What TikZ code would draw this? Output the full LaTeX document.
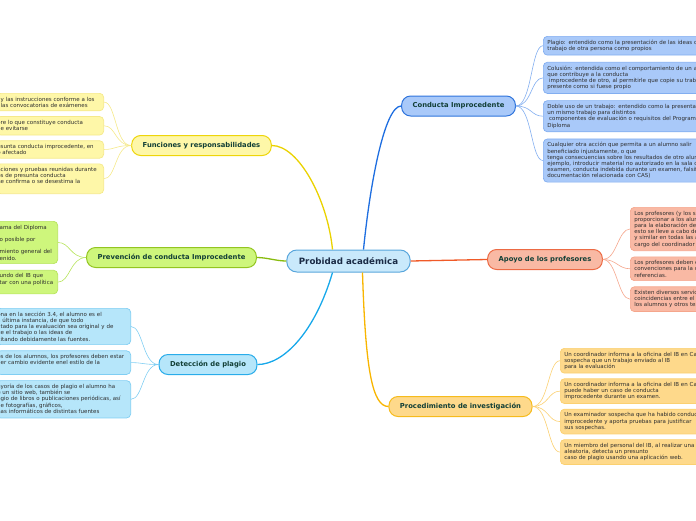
\documentclass[tikz,border=0pt]{standalone}
\usepackage{fontspec}
\setmainfont{DejaVu Sans}
\usepackage{tikz}
\usetikzlibrary{positioning}
\usepackage{xcolor}

\definecolor{rootfill}{HTML}{C9E9FB}
\definecolor{rootdraw}{HTML}{58A6DC}
\definecolor{roottext}{HTML}{1A2B45}
\definecolor{titletext}{HTML}{123F36}
\definecolor{leaftext}{HTML}{2E2E2E}
\definecolor{condfill}{HTML}{A9C9F9}
\definecolor{conddraw}{HTML}{2F74DC}
\definecolor{condline}{HTML}{1E6EE0}
\definecolor{condedge}{HTML}{82AEF0}
\definecolor{apoyofill}{HTML}{F9B9A4}
\definecolor{apoyodraw}{HTML}{EC6A44}
\definecolor{apoyoline}{HTML}{F05A28}
\definecolor{apoyoedge}{HTML}{F5A68C}
\definecolor{procfill}{HTML}{FED98B}
\definecolor{procdraw}{HTML}{F6BB1C}
\definecolor{procline}{HTML}{F8B500}
\definecolor{procedge}{HTML}{FBD070}
\definecolor{funfill}{HTML}{FEF7A8}
\definecolor{fundraw}{HTML}{EED50A}
\definecolor{funline}{HTML}{EAD200}
\definecolor{funedge}{HTML}{F5E98A}
\definecolor{prevfill}{HTML}{CEF67C}
\definecolor{prevdraw}{HTML}{93C520}
\definecolor{prevline}{HTML}{88BB0E}
\definecolor{prevedge}{HTML}{B7E45C}
\definecolor{detfill}{HTML}{B6E6FA}
\definecolor{detdraw}{HTML}{29ACEA}
\definecolor{detline}{HTML}{17A8EA}
\definecolor{detedge}{HTML}{80CEF3}

\newcommand{\offpage}[1]{\leavevmode\llap{#1}}

\begin{document}
\begin{tikzpicture}[
  x=1pt, y=-1pt,
  root/.style={draw=rootdraw, fill=rootfill, rounded corners=10pt, line width=1pt, minimum height=22pt, inner xsep=12pt, text=roottext, font=\bfseries\fontsize{8.7}{10}\selectfont},
  branch/.style={rounded corners=9pt, line width=1pt, minimum height=20pt, inner xsep=11pt, text=titletext, font=\bfseries\fontsize{6.8}{8}\selectfont},
  leaf/.style={rounded corners=4pt, line width=0.7pt, align=left, inner xsep=4pt, inner ysep=3.5pt, text=leaftext, font=\fontsize{5.5}{6.2}\selectfont},
  condleaf/.style={leaf, fill=condfill, draw=condedge, text width=260pt},
  apoyoleaf/.style={leaf, fill=apoyofill, draw=apoyoedge, text width=200pt},
  procleaf/.style={leaf, fill=procfill, draw=procedge, text width=260pt},
  funleaf/.style={leaf, fill=funfill, draw=funedge, text width=99pt},
  prevleaf/.style={leaf, fill=prevfill, draw=prevedge, text width=54pt},
  detleaf/.style={leaf, fill=detfill, draw=detedge, text width=126pt},
  link/.style={line width=1.3pt},
  twig/.style={line width=0.6pt}
]
\clip (0,0) rectangle (696,520);

% Central topic
\node[root] (probidad) at (348.5,261) {Probidad académica};

% Main branches
\node[branch, fill=condfill, draw=conddraw] (conducta) at (458.5,106) {Conducta Improcedente};
\node[branch, fill=apoyofill, draw=apoyodraw] (apoyo) at (545,259.5) {Apoyo de los profesores};
\node[branch, fill=procfill, draw=procdraw] (proc) at (460.5,406.5) {Procedimiento de investigación};
\node[branch, fill=funfill, draw=fundraw] (funciones) at (201.5,145.5) {Funciones y responsabilidades};
\node[branch, fill=prevfill, draw=prevdraw] (prevencion) at (171.5,257.5) {Prevención de conducta Improcedente};
\node[branch, fill=detfill, draw=detdraw] (deteccion) at (208,364.5) {Detección de plagio};

% Leaves of Conducta Improcedente
\node[condleaf, anchor=north west] (conducta1) at (543,36) {Plagio: entendido como la presentación de las ideas o el\\trabajo de otra persona como propios};
\node[condleaf, below=6.5pt of conducta1] (conducta2) {Colusión: entendida como el comportamiento de un alumno\\que contribuye a la conducta\\~improcedente de otro, al permitirle que copie su trabajo o lo\\presente como si fuese propio};
\node[condleaf, below=6.5pt of conducta2] (conducta3) {Doble uso de un trabajo: entendido como la presentación de\\un mismo trabajo para distintos\\~componentes de evaluación o requisitos del Programa del\\Diploma};
\node[condleaf, below=6.5pt of conducta3] (conducta4) {Cualquier otra acción que permita a un alumno salir\\beneficiado injustamente, o que\\tenga consecuencias sobre los resultados de otro alumno (por\\ejemplo, introducir material no autorizado en la sala de\\examen, conducta indebida durante un examen, falsificar\\documentación relacionada con CAS)};

% Leaves of Apoyo de los profesores
\node[apoyoleaf, anchor=north west] (apoyo1) at (630,207) {Los profesores (y los supervisores) deben\\proporcionar a los alumnos orientación\\para la elaboración de sus trabajos\\esto se lleve a cabo de manera coherente\\y similar en todas las asignaturas, a\\cargo del coordinador del Programa};
\node[apoyoleaf, below=5.5pt of apoyo1] (apoyo2) {Los profesores deben enseñar a los alumnos las\\convenciones para la cita de fuentes y las\\referencias.};
\node[apoyoleaf, below=5.5pt of apoyo2] (apoyo3) {Existen diversos servicios que detectan\\coincidencias entre el trabajo de\\los alumnos y otros textos};

% Leaves of Procedimiento de investigación
\node[procleaf, anchor=north west] (proc1) at (560,348) {Un coordinador informa a la oficina del IB en Cardiff de que\\sospecha que un trabajo enviado al IB\\para la evaluación};
\node[procleaf, below=5pt of proc1] (proc2) {Un coordinador informa a la oficina del IB en Cardiff de que\\puede haber un caso de conducta\\improcedente durante un examen.};
\node[procleaf, below=5pt of proc2] (proc3) {Un examinador sospecha que ha habido conducta\\improcedente y aporta pruebas para justificar\\sus sospechas.};
\node[procleaf, below=5pt of proc3] (proc4) {Un miembro del personal del IB, al realizar una comprobación\\aleatoria, detecta un presunto\\caso de plagio usando una aplicación web.};

% Leaves of Funciones y responsabilidades
\node[funleaf, anchor=north east] (funciones1) at (104,93) {y las instrucciones conforme a los\\las convocatorias de exámenes};
\node[funleaf, below=5pt of funciones1] (funciones2) {\offpage{sob}re lo que constituye conducta\\\offpage{pued}e evitarse};
\node[funleaf, below=5pt of funciones2] (funciones3) {\offpage{pre}sunta conducta improcedente, en\\\offpage{alumno}\ afectado};
\node[funleaf, below=5pt of funciones3] (funciones4) {\offpage{declara}ciones y pruebas reunidas durante\\\offpage{caso}s de presunta conducta\\\offpage{s}e confirma o se desestima la\\\mbox{}};

% Leaves of Prevención de conducta Improcedente
\node[prevleaf, anchor=north east] (prevencion1) at (58,221) {\offpage{Progr}ama del Diploma\\\mbox{}\\\offpage{l}o posible por\\\mbox{}\\\offpage{cumpli}miento general del\\\offpage{cont}enido.};
\node[prevleaf, below=6pt of prevencion1] (prevencion2) {\offpage{M}undo del IB que\\\offpage{con}tar con una política\\\mbox{}};

% Leaves of Detección de plagio
\node[detleaf, anchor=north east] (deteccion1) at (131,308) {\offpage{mencio}na en la sección 3.4, el alumno es el\\\offpage{en}\ última instancia, de que todo\\\offpage{presen}tado para la evaluación sea original y de\\\offpage{utilic}e el trabajo o las ideas de\\\offpage{c}itando debidamente las fuentes.};
\node[detleaf, below=5.5pt of deteccion1] (deteccion2) {\offpage{trabajo}s de los alumnos, los profesores deben estar\\\offpage{cualqui}er cambio evidente enel estilo de la\\\mbox{}};
\node[detleaf, below=5.5pt of deteccion2] (deteccion3) {\offpage{ma}yoría de los casos de plagio el alumno ha\\\offpage{de}\ un sitio web, también se\\\offpage{pla}gio de libros o publicaciones periódicas, así\\\offpage{d}e fotografías, gráficos,\\\offpage{program}as informáticos de distintas fuentes};

% Links from the central topic
\draw[link, condline] ([xshift=15pt]probidad.north) .. controls +(7,-70) and +(-16,0) .. (conducta.west);
\draw[link, funline] ([xshift=-16pt]probidad.north) .. controls +(-5,-50) and +(27,0) .. (funciones.east);
\draw[link, apoyoline] (probidad.east) -- (apoyo.west);
\draw[link, prevline] (probidad.west) .. controls +(-10,0) and +(10,0) .. (prevencion.east);
\draw[link, detline] ([xshift=-16pt]probidad.south) .. controls +(-17,58) and +(27,0) .. (deteccion.east);
\draw[link, procline] ([xshift=14pt]probidad.south) .. controls +(3,98) and +(-16,0) .. (proc.west);

% Twigs to the leaves
\foreach \i in {1,...,4}
  \draw[twig, condedge] (conducta.east) .. controls +(16,0) and +(-12,0) .. (conducta\i.west);
\foreach \i in {1,...,3}
  \draw[twig, apoyoedge] (apoyo.east) .. controls +(14,0) and +(-12,0) .. (apoyo\i.west);
\foreach \i in {1,...,4}
  \draw[twig, procedge] (proc.east) .. controls +(16,0) and +(-12,0) .. (proc\i.west);
\foreach \i in {1,...,4}
  \draw[twig, funedge] (funciones.west) .. controls +(-16,0) and +(12,0) .. (funciones\i.east);
\foreach \i in {1,2}
  \draw[twig, prevedge] (prevencion.west) .. controls +(-16,0) and +(12,0) .. (prevencion\i.east);
\foreach \i in {1,...,3}
  \draw[twig, detedge] (deteccion.west) .. controls +(-16,0) and +(12,0) .. (deteccion\i.east);

\end{tikzpicture}
\end{document}
